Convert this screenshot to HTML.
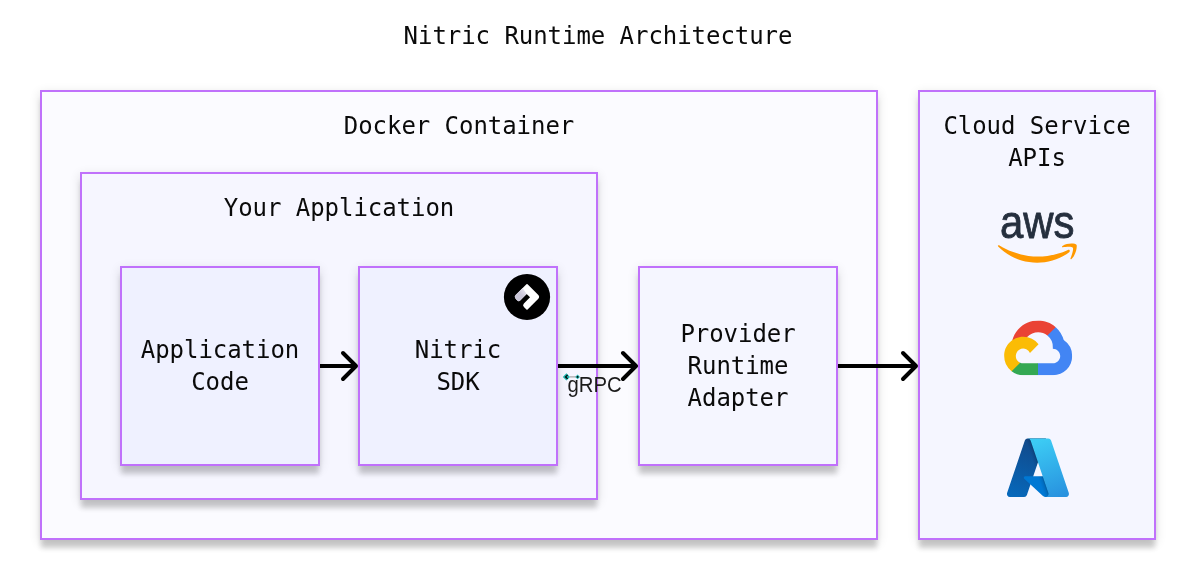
<!DOCTYPE html>
<html lang="en">
<head>
<meta charset="utf-8">
<title>Nitric Runtime Architecture</title>
<style>
  html, body { margin: 0; padding: 0; background: #ffffff; }
  body { width: 1196px; height: 580px; position: relative; overflow: hidden; }
  .box {
    position: absolute;
    box-sizing: border-box;
    border: 2px solid #c071fb;
    box-shadow: 0 9px 5px -1px rgba(0, 0, 0, 0.17), 0 3px 10px rgba(0, 0, 0, 0.13);
  }
  #docker   { left: 40px;  top: 90px;  width: 838px; height: 450px; background: #fbfbff; }
  #cloud    { left: 918px; top: 90px;  width: 238px; height: 450px; background: #f5f6ff; }
  #yourapp  { left: 80px;  top: 172px; width: 518px; height: 328px; background: #f6f6ff; }
  #appcode  { left: 120px; top: 266px; width: 200px; height: 200px; background: #eff1ff; }
  #sdk      { left: 358px; top: 266px; width: 200px; height: 200px; background: #eff1ff; }
  #provider { left: 638px; top: 266px; width: 200px; height: 200px; background: #f5f6ff; }
  svg#overlay { position: absolute; left: 0; top: 0; width: 1196px; height: 580px; overflow: visible; will-change: transform; }
  .mono {
    font-family: "DejaVu Sans Mono", "Liberation Mono", monospace;
    font-size: 24px;
    fill: #0a0a0a;
    text-anchor: middle;
    letter-spacing: -0.05px;
  }
  .sans {
    font-family: "Liberation Sans", sans-serif;
  }
</style>
</head>
<body>
  <div class="box" id="docker"></div>
  <div class="box" id="cloud"></div>
  <div class="box" id="yourapp"></div>
  <div class="box" id="appcode"></div>
  <div class="box" id="sdk"></div>
  <div class="box" id="provider"></div>

  <svg id="overlay" viewBox="0 0 1196 580" width="1196" height="580">
    <!-- labels -->
    <text class="mono" x="598" y="44">Nitric Runtime Architecture</text>
    <text class="mono" x="459" y="134">Docker Container</text>
    <text class="mono" x="339" y="216">Your Application</text>
    <text class="mono" x="220" y="358">Application</text>
    <text class="mono" x="220" y="390">Code</text>
    <text class="mono" x="458" y="358">Nitric</text>
    <text class="mono" x="458" y="390">SDK</text>
    <text class="mono" x="738" y="342">Provider</text>
    <text class="mono" x="738" y="374">Runtime</text>
    <text class="mono" x="738" y="406">Adapter</text>
    <text class="mono" x="1037" y="134">Cloud Service</text>
    <text class="mono" x="1037" y="166">APIs</text>

    <!-- arrows -->
    <g fill="none" stroke="#000" stroke-width="4" stroke-linecap="round" stroke-linejoin="round">
      <path d="M320 366 H356" stroke-linecap="butt"/>
      <path d="M343 353 L356 366 L343 379"/>
      <path d="M558 366 H636" stroke-linecap="butt"/>
      <path d="M623 353 L636 366 L623 379"/>
      <path d="M838 366 H916" stroke-linecap="butt"/>
      <path d="M903 353 L916 366 L903 379"/>
    </g>

    <!-- Nitric logo badge -->
    <g id="nitric">
      <defs>
        <linearGradient id="nfold" x1="0" y1="6" x2="0" y2="12" gradientUnits="userSpaceOnUse">
          <stop offset="0" stop-color="#e6e3ee"/><stop offset="1" stop-color="#cac6d8"/>
        </linearGradient>
      </defs>
      <circle cx="527" cy="297" r="23.1" fill="#000"/>
      <g transform="translate(527 283.7) rotate(45)">
        <path d="M0.8 0 L15.67 0 Q18.67 0 18.67 3 L18.67 17.87 Q18.67 18.67 17.87 18.67 L14.30 18.67 Q11.8 18.67 11.8 16.17 L11.8 7.5 L7.0 7.5 L7.0 16.67 Q7.0 18.67 5.0 18.67 L2.6 18.67 Q0 18.67 0 16.07 L0 0.8 Q0 0 0.8 0 Z" fill="#fff"/>
        <path d="M0 6.1 L7.0 7.5 L7.0 16.67 Q7.0 18.67 5.0 18.67 L2.6 18.67 Q0 18.67 0 16.07 Z" fill="url(#nfold)"/>
      </g>
    </g>

    <!-- AWS logo: real text for the letters, path for the smile -->
    <svg id="aws" x="997.4" y="211.4" width="79.8" height="51.6" viewBox="0 0 304 182" preserveAspectRatio="none" overflow="visible">
      <text class="sans" x="9.5" y="93.5" font-size="164" textLength="284" lengthAdjust="spacingAndGlyphs" fill="#252f3e" stroke="#252f3e" stroke-width="3" stroke-linejoin="round">aws</text>
      <path fill="#ff9900" d="M273.500 143.700c-32.900 24.300-80.700 37.200-121.800 37.200-57.600 0-109.500-21.300-148.700-56.700-3.100-2.800-.3-6.600 3.400-4.400 42.400 24.600 94.700 39.500 148.800 39.500 36.500 0 76.600-7.600 113.500-23.200 5.500-2.500 10.200 3.600 4.800 7.600z"/>
      <path fill="#ff9900" d="M287.200 128.100c-4.200-5.400-27.800-2.600-38.500-1.300-3.200.4-3.700-2.400-.8-4.500 18.800-13.200 49.700-9.400 53.300-5 3.600 4.500-1 35.400-18.600 50.200-2.700 2.300-5.300 1.100-4.100-1.900 4-9.900 12.900-32.200 8.700-37.500z"/>
    </svg>

    <!-- Google Cloud logo -->
    <svg id="gcp" x="1004.1" y="320.4" width="68.1" height="54.85" viewBox="0 0 256 206">
      <path fill="#EA4335" d="m170.252 56.819 22.253-22.253 1.483-9.370C153.437-11.677 88.976-7.496 52.420 33.920 42.267 45.423 34.734 59.764 30.717 74.573l7.970-1.123 44.505-7.340 3.436-3.513c19.797-21.742 53.270-24.667 76.128-6.168l7.496.390z"/>
      <path fill="#4285F4" d="M224.205 73.918a100.249 100.249 0 0 0-30.217-48.722l-31.232 31.232a55.515 55.515 0 0 1 20.379 44.037v5.544c15.350 0 27.797 12.445 27.797 27.796 0 15.352-12.446 27.485-27.797 27.485h-55.671l-5.466 5.934v33.340l5.466 5.231h55.670c39.930.311 72.553-31.494 72.864-71.424a72.303 72.303 0 0 0-31.793-60.453"/>
      <path fill="#34A853" d="M71.870 205.796h55.593V161.290H71.870a27.275 27.275 0 0 1-11.399-2.498l-7.887 2.420-22.409 22.253-1.952 7.574c12.567 9.489 27.900 14.825 43.647 14.757"/>
      <path fill="#FBBC05" d="M71.870 61.425C31.940 61.664-.237 94.228.001 134.159a72.301 72.301 0 0 0 28.222 56.880l32.248-32.246c-13.990-6.322-20.208-22.786-13.887-36.776 6.320-13.990 22.786-20.208 36.775-13.888a27.796 27.796 0 0 1 13.887 13.888l32.248-32.248A72.224 72.224 0 0 0 71.870 61.425"/>
    </svg>

    <!-- Azure logo -->
    <svg id="azure" x="1004.1" y="433.8" width="67.7" height="67.7" viewBox="0 0 96 96">
      <defs>
        <linearGradient id="az-a" x1="42.8" y1="12.7" x2="15.8" y2="92.6" gradientUnits="userSpaceOnUse">
          <stop offset="0" stop-color="#114a8b"/><stop offset="1" stop-color="#0669bc"/>
        </linearGradient>
        <linearGradient id="az-b" x1="51.3" y1="49.9" x2="45.0" y2="52.0" gradientUnits="userSpaceOnUse">
          <stop offset="0" stop-opacity=".3"/><stop offset=".071" stop-opacity=".2"/><stop offset=".321" stop-opacity=".1"/><stop offset=".623" stop-opacity=".05"/><stop offset="1" stop-opacity="0"/>
        </linearGradient>
        <linearGradient id="az-c" x1="47.8" y1="10.4" x2="77.5" y2="89.4" gradientUnits="userSpaceOnUse">
          <stop offset="0" stop-color="#3ccbf4"/><stop offset="1" stop-color="#2892df"/>
        </linearGradient>
      </defs>
      <path fill="url(#az-a)" d="M33.338 6.544h26.038l-27.030 80.087a4.152 4.152 0 0 1-3.933 2.824H8.149a4.145 4.145 0 0 1-3.928-5.470L29.404 9.368a4.152 4.152 0 0 1 3.934-2.825z"/>
      <path fill="#0078d4" d="M71.175 60.261h-41.290a1.911 1.911 0 0 0-1.305 3.309l26.532 24.764a4.171 4.171 0 0 0 2.846 1.121h23.380z"/>
      <path fill="url(#az-b)" d="M33.338 6.544a4.118 4.118 0 0 0-3.943 2.879L4.252 83.917a4.140 4.140 0 0 0 3.908 5.538h20.787a4.443 4.443 0 0 0 3.410-2.900l5.014-14.777 17.910 16.705a4.237 4.237 0 0 0 2.666.972H81.240L71.024 60.261l-29.781.007L59.470 6.544z"/>
      <path fill="url(#az-c)" d="M66.595 9.364a4.145 4.145 0 0 0-3.928-2.820H33.648a4.146 4.146 0 0 1 3.928 2.820l25.184 74.620a4.146 4.146 0 0 1-3.928 5.472h29.020a4.146 4.146 0 0 0 3.927-5.472z"/>
    </svg>

    <!-- tiny connector glyph -->
    <g id="connector">
      <path d="M570 376.9 H576" stroke="#9c9c9c" stroke-width="1.1" fill="none"/>
      <path d="M566.4 373.3 L570 376.9 L566.4 380.5 L562.8 376.9 Z" fill="#1fb3ac"/>
      <path d="M567.6 374.9 L565.6 376.9 L567.6 378.9" fill="none" stroke="#000" stroke-width="1.3"/>
      <path d="M577.6 374.6 L579.9 376.9 L577.6 379.2 L575.3 376.9 Z" fill="#1fb3ac"/>
      <circle cx="577.6" cy="376.9" r="0.9" fill="#000"/>
    </g>

    <!-- gRPC label -->
    <text class="sans" x="567.5" y="391.6" font-size="22.4" textLength="54.2" lengthAdjust="spacingAndGlyphs" fill="#1c1c1c">gRPC</text>
  </svg>
</body>
</html>
